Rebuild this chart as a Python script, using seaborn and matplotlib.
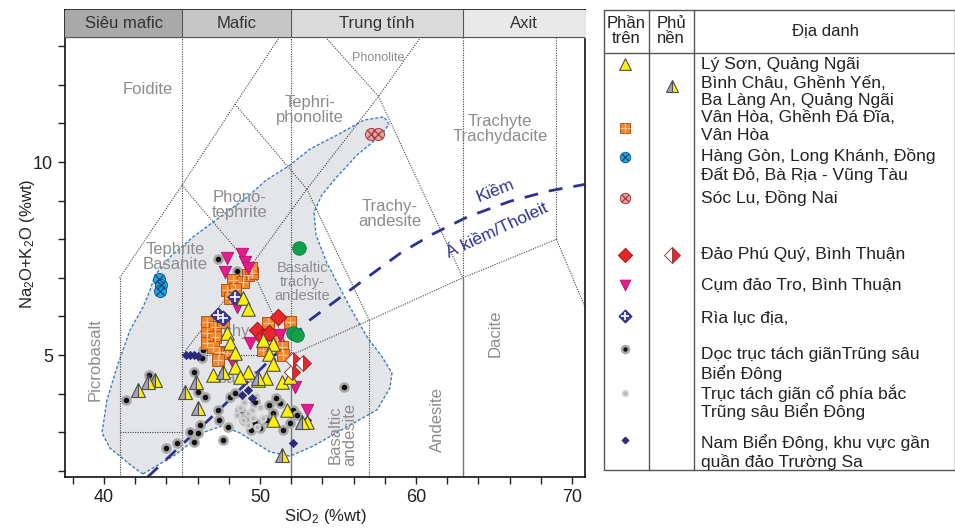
import matplotlib
matplotlib.use('Agg')
import matplotlib.pyplot as plt
import seaborn as sns
import pandas as pd

sns.set_theme(style='white')
plt.rcParams['font.family'] = ['Liberation Sans', 'DejaVu Sans']
plt.rcParams['mathtext.default'] = 'regular'

# ---- data (SiO2 %wt, Na2O+K2O %wt) ----
# Lý Sơn, Quảng Ngãi (phần trên)
lyson_x = [48.9, 49.2, 47.9, 48.1, 48.4, 50.2, 50.8, 50.6, 50.8, 48.4, 49.2, 47.0, 48.7, 49.9, 51.4,
           51.9, 51.7, 50.8, 53.0, 50.4]
lyson_y = [6.48, 6.19, 5.57, 5.31, 5.05, 5.39, 5.28, 5.03, 4.77, 4.69, 4.56, 4.48, 4.43, 4.35, 4.30,
           4.43, 3.58, 3.32, 3.26, 4.40]
# Bình Châu, Ghềnh Yến, Ba Làng An (phủ nền)
bichau_x = [42.2, 42.8, 43.3, 45.2, 45.9, 46.0, 47.6, 49.9, 52.7, 51.4]
bichau_y = [4.09, 4.30, 4.35, 4.04, 4.30, 3.63, 4.56, 4.40, 3.26, 2.41]
# Vân Hòa, Ghềnh Đá Đĩa
vanhoa_x = [48.3, 48.9, 49.2, 49.5, 47.9, 48.4, 48.1, 46.6, 47.1, 46.6, 47.1, 46.6, 47.0, 47.4, 47.9,
            47.3, 50.5, 51.9, 51.1, 50.2, 51.4, 51.5, 47.6, 49.4]
vanhoa_y = [6.94, 6.89, 7.07, 7.12, 6.68, 6.71, 6.48, 5.85, 5.73, 5.57, 5.47, 5.31, 5.21, 5.08, 5.05,
            4.87, 5.83, 5.85, 5.47, 5.13, 5.21, 5.00, 5.85, 7.25]
# Hàng Gòn, Long Khánh, Đất Đỏ
hanggon_x = [43.5, 43.65, 43.6]
hanggon_y = [6.97, 6.81, 6.66]
# Sóc Lu, Đồng Nai
soclu_x = [57.1, 57.55]
soclu_y = [10.73, 10.73]
# Đảo Phú Quý
phuquy_x = [51.15, 49.8, 50.1, 50.6]
phuquy_y = [5.98, 5.65, 5.47, 5.57]
phuquy_nen_x = [52.75, 52.05, 52.1]
phuquy_nen_y = [4.79, 4.56, 4.87]
# Cụm đảo Tro
tro_x = [47.9, 48.85, 49.05, 49.2, 47.75, 48.5, 49.35, 51.3, 52.25, 53.0, 48.3]
tro_y = [7.51, 7.62, 7.41, 7.25, 7.15, 6.24, 5.31, 5.52, 4.17, 3.58, 4.79]
# Rìa lục địa
ria_x = [48.4, 47.3, 47.65]
ria_y = [6.50, 6.04, 5.96]
# Dọc trục tách giãn Trũng sâu Biển Đông
doctruc_x = [47.3, 48.5, 42.9, 41.4, 45.8, 46.0, 46.5, 47.3, 47.4, 46.15, 46.0, 45.5, 44.7, 44.0, 47.6,
             46.35, 46.3, 47.95, 48.1, 48.4, 49.0, 49.7, 50.0, 50.45, 50.8, 51.3, 52.1, 52.4, 51.9,
             48.7, 55.4, 45.8, 50.6, 49.4, 51.5, 51.0, 49.7]
doctruc_y = [7.49, 7.18, 4.48, 3.83, 4.56, 4.04, 3.91, 3.58, 3.32, 3.19, 2.98, 3.01, 2.72, 2.59, 2.80,
             5.13, 4.92, 3.13, 3.91, 4.02, 3.32, 3.24, 3.11, 3.32, 3.50, 3.76, 3.58, 3.45, 3.24,
             3.58, 4.17, 2.75, 3.70, 3.06, 3.06, 3.89, 3.78]
# Trục tách giãn cổ phía bắc
truccu_x = [48.7, 49.2, 49.5, 49.55, 48.9, 49.2, 49.8, 50.0, 50.2, 49.0, 49.75, 48.5, 49.55]
truccu_y = [3.63, 3.50, 3.58, 3.37, 3.32, 3.19, 3.13, 3.65, 3.37, 3.78, 3.94, 3.45, 4.43]
# Nam Biển Đông, khu vực gần quần đảo Trường Sa
nambd_x = [45.25, 45.5, 45.75, 46.0, 49.25, 49.5, 48.85, 52.1, 53.0]
nambd_y = [5.0, 5.0, 5.0, 4.97, 4.09, 3.89, 3.96, 2.72, 3.32]
# green points (not in legend)
green_x = [52.5, 52.1, 52.35]
green_y = [7.77, 5.57, 5.52]

# envelope of the samples
env_x = [42.50, 44.55, 46.47, 47.56, 48.72, 50.64, 51.92, 53.40, 55.45, 57.50, 58.33, 58.46, 57.88,
         56.86, 55.77, 54.29, 53.59, 53.46, 53.97, 54.87, 56.22, 57.76, 58.27, 57.95, 56.67, 54.94,
         53.21, 51.92, 50.38, 49.17, 47.44, 45.71, 44.23, 43.27, 42.95, 42.50, 41.67, 40.83, 40.19,
         39.87, 40.38, 41.86]
env_y = [1.92, 2.41, 3.01, 3.16, 2.98, 2.49, 2.38, 2.64, 3.11, 3.58, 4.15, 4.53, 4.92,
         5.47, 6.24, 7.38, 8.11, 8.70, 9.15, 9.59, 10.18, 10.70, 10.98, 11.17, 11.09, 10.70,
         10.34, 9.92, 9.53, 9.09, 8.58, 8.06, 7.54, 7.07, 6.68, 6.24, 5.65, 4.69, 3.83,
         2.98, 2.59, 2.10]

# alkaline / subalkaline divide
alk_x = [42.8, 45.0, 47.24, 50.0, 53.2, 55.0, 57.0, 59.0, 61.0, 63.3, 66.0, 68.5, 70.8]
alk_y = [1.84, 2.68, 3.52, 4.62, 5.91, 6.45, 7.05, 7.64, 8.12, 8.58, 8.98, 9.25, 9.42]

# TAS field boundaries (Le Bas et al.)
dotted_lines = [
    ([41, 41], [0, 7]), ([41, 45], [3, 3]), ([45, 45], [0, 13.24]), ([45, 52], [5, 5]),
    ([45, 49.4, 52], [5, 7.3, 5]), ([52, 57, 63, 69], [5, 5.9, 7, 8]), ([57, 57], [0, 5.9]),
    ([49.4, 53, 57.6], [7.3, 9.3, 11.7]), ([53, 57], [9.3, 5.9]), ([57.6, 63], [11.7, 7]),
    ([41, 45, 48.4, 51.25], [7, 9.4, 11.5, 13.24]), ([45, 49.4], [9.4, 7.3]),
    ([48.4, 53], [11.5, 9.3]), ([54.19, 57.6, 60.3], [13.24, 11.7, 13.24]),
    ([52, 52], [5, 13.24]), ([63, 63], [7, 13.24]), ([69, 69], [8, 13.24]), ([69, 70.83], [8, 6.24]),
]
solid_lines = [([52, 52], [0, 5]), ([63, 63], [0, 7])]

header_edges = [37.5, 45, 52, 63, 70.83]
header_names = ['Siêu mafic', 'Mafic', 'Trung tính', 'Axit']
header_colors = ['#a9a9a9', '#c6c6c6', '#dadada', '#e9e9e9']

field_labels = [
    ('Foidite', 42.8, 11.87, 0, 12), ('Tephri-\nphonolite', 53.2, 11.35, 0, 12),
    ('Phonolite', 57.6, 12.69, 0, 9), ('Trachyte\nTrachydacite', 65.4, 10.85, 0, 12),
    ('Phono-\ntephrite', 48.7, 8.89, 0, 12), ('Trachy-\nandesite', 58.3, 8.65, 0, 12),
    ('Tephrite\nBasanite', 44.55, 7.54, 0, 12), ('Basaltic\ntrachy-\nandesite', 52.7, 6.89, 0, 10.5),
    ('Trachy-', 47.95, 5.60, 0, 12), ('basalt', 48.7, 4.40, 0, 12),
    ('Picrobasalt', 39.4, 4.87, 90, 12), ('Basaltic\nandesite', 55.3, 2.93, 90, 12),
    ('Andesite', 61.35, 3.32, 90, 12), ('Dacite', 65.06, 5.57, 90, 12),
]

legend_text = ['Lý Sơn, Quảng Ngãi', 'Bình Châu, Ghềnh Yến,', 'Ba Làng An, Quảng Ngãi',
               'Vân Hòa, Ghềnh Đá Đĩa,', 'Vân Hòa', 'Hàng Gòn, Long Khánh, Đồng',
               'Đất Đỏ, Bà Rịa - Vũng Tàu', 'Sóc Lu, Đồng Nai', 'Đảo Phú Quý, Bình Thuận',
               'Cụm đảo Tro, Bình Thuận', 'Rìa lục địa,', 'Dọc trục tách giãnTrũng sâu',
               'Biển Đông', 'Trục tách giãn cổ phía bắc', 'Trũng sâu Biển Đông',
               'Nam Biển Đông, khu vực gần', 'quần đảo Trường Sa']
legend_text_y = [65, 83, 100, 118, 135, 156, 175, 198, 255, 285, 318, 354, 374, 393, 412, 443, 462]

# ---- styles ----
styles = {
    'doctruc': dict(marker='o', s=34, color='#111111', edgecolor='#a8a8a8', linewidth=1.8),
    'truccu': dict(marker='o', s=18, color='#b3b3b3', edgecolor='#d2d2d2', linewidth=1.5),
    'nambd': dict(marker='D', s=18, color='#2c2a7c', edgecolor='#2c2a7c', linewidth=0.5),
    'vanhoa': dict(marker='s', s=70, color='#f0862a', edgecolor='#b5561a', linewidth=0.7),
    'phuquy': dict(marker='D', s=70, color='#e8262b', edgecolor='#a11515', linewidth=0.7),
    'tro': dict(marker='v', s=80, color='#e8198b', edgecolor='#b0106a', linewidth=0.6),
    'ria': dict(marker='D', s=60, color='#3b3a96', edgecolor='#2a2a70', linewidth=0.6),
    'lyson': dict(marker='^', s=95, color='#fff200', edgecolor='#4d4d4d', linewidth=0.8),
    'green': dict(marker='o', s=95, color='#10a04c', edgecolor='#0b7a38', linewidth=0.6),
    'hanggon': dict(marker='o', s=75, color='#1ea5de', edgecolor='#155e96', linewidth=0.7),
    'soclu': dict(marker='o', s=75, color='#e9a1a3', edgecolor='#a03a3f', linewidth=0.7),
}
overlays = {
    'vanhoa': dict(marker='+', s=60, color='#f7c28f', linewidth=0.9),
    'ria': dict(marker='+', s=50, color='white', linewidth=1.2),
    'hanggon': dict(marker='x', s=35, color='#14457e', linewidth=0.9),
    'soclu': dict(marker='x', s=35, color='#a03a3f', linewidth=0.9),
}
half_styles = {
    'bichau': dict(marker='^', ms=9.8, fillstyle='left', markerfacecolor='#a8a3b9',
                   markerfacecoloralt='#fff200', markeredgecolor='#4d4d4d', mew=0.8),
    'phuquy_nen': dict(marker='D', ms=8.5, fillstyle='right', markerfacecolor='#e8262b',
                       markerfacecoloralt='white', markeredgecolor='#8a4040', mew=0.7),
}

groups = [
    ('doctruc', doctruc_x, doctruc_y), ('truccu', truccu_x, truccu_y), ('nambd', nambd_x, nambd_y),
    ('vanhoa', vanhoa_x, vanhoa_y), ('phuquy', phuquy_x, phuquy_y), ('tro', tro_x, tro_y),
    ('ria', ria_x, ria_y), ('lyson', lyson_x, lyson_y), ('green', green_x, green_y),
    ('hanggon', hanggon_x, hanggon_y), ('soclu', soclu_x, soclu_y),
]

fig = plt.figure(figsize=(9.55, 5.3), dpi=100)
ax = fig.add_axes([65 / 955, 1 - 477 / 530, 520 / 955, 467 / 530])
ax.set_xlim(37.5, 70.83)
ax.set_ylim(1.84, 13.94)

# envelope
ax.fill(env_x, env_y, facecolor='#e4e5e8', edgecolor='#3f7dc4', linewidth=1.0,
        linestyle=(0, (2.2, 1.4)), zorder=0.5)

# field boundaries
for xs, ys in dotted_lines:
    ax.plot(xs, ys, color='#444444', linewidth=0.8, linestyle=(0, (1, 1.2)), zorder=1)
for xs, ys in solid_lines:
    ax.plot(xs, ys, color='#777777', linewidth=1.0, zorder=1)

# header band
for i, name in enumerate(header_names):
    ax.fill_between([header_edges[i], header_edges[i + 1]], 13.24, 13.94,
                    color=header_colors[i], zorder=4)
    ax.plot([header_edges[i + 1]] * 2, [13.24, 13.94], color='#555555', linewidth=0.8, zorder=4.1)
    ax.text((header_edges[i] + header_edges[i + 1]) / 2, 13.59, name, ha='center', va='center',
            fontsize=12, color='#333333', zorder=4.2)
ax.axhline(13.24, color='#555555', linewidth=0.8, zorder=4.1)

for txt, x, y, rot, fs in field_labels:
    ax.text(x, y, txt, ha='center', va='center', rotation=rot, fontsize=fs, color='#8c8c8c',
            linespacing=1.0, zorder=1.5)

# alkaline line
ax.plot(alk_x, alk_y, color='#2e3192', linewidth=2.0, linestyle=(0, (5, 4)), zorder=2.5)
ax.text(65.1, 9.25, 'Kiềm', rotation=21, ha='center', va='center', fontsize=12.5,
        color='#2e3192', zorder=2.6)
ax.text(65.2, 8.22, 'Á kiềm/Tholeit', rotation=25, ha='center', va='center', fontsize=12.5,
        color='#2e3192', zorder=2.6)

# samples
z = 3
for key, xs, ys in groups:
    df = pd.DataFrame({'SiO2': xs, 'alk': ys})
    sns.scatterplot(data=df, x='SiO2', y='alk', ax=ax, zorder=z, legend=False, **styles[key])
    if key in overlays:
        sns.scatterplot(data=df, x='SiO2', y='alk', ax=ax, zorder=z + 0.05, legend=False,
                        **overlays[key])
    z += 0.1
    if key == 'lyson':
        ax.plot(bichau_x, bichau_y, linestyle='none', zorder=z, **half_styles['bichau'])
        ax.plot(phuquy_nen_x, phuquy_nen_y, linestyle='none', zorder=z,
                **half_styles['phuquy_nen'])
        z += 0.1

ax.set_xticks(range(38, 71, 2))
ax.set_xticklabels([str(v) if v % 10 == 0 else '' for v in range(38, 71, 2)])
ax.set_yticks(range(2, 14))
ax.set_yticklabels([str(v) if v in (5, 10) else '' for v in range(2, 14)])
ax.tick_params(axis='both', direction='out', length=5, width=1, colors='#222222',
               labelsize=13, bottom=True, left=True)
for sp in ax.spines.values():
    sp.set_color('#111111')
    sp.set_linewidth(1.2)
ax.set_xlabel('SiO$_2$ (%wt)', fontsize=12, labelpad=1, color='#222222')
ax.set_ylabel('Na$_2$O+K$_2$O (%wt)', fontsize=12, labelpad=-3, color='#222222')

# ---- legend table ----
lax = fig.add_axes([603 / 955, 1 - 470 / 530, 352 / 955, 461 / 530])
lax.set_xlim(603, 955)
lax.set_ylim(470, 9)
lax.axis('off')
lc = '#555555'
for xs, ys in [([603.5, 954.5, 954.5, 603.5, 603.5], [9.5, 9.5, 469.5, 469.5, 9.5]),
               ([649, 649], [9.5, 469.5]), ([694, 694], [9.5, 469.5]), ([603.5, 954.5], [53, 53])]:
    lax.plot(xs, ys, color=lc, linewidth=1.0, clip_on=False)
lax.text(626, 31, 'Phần\ntrên', ha='center', va='center', fontsize=12, linespacing=0.95,
         color='#222222')
lax.text(671, 31, 'Phủ\nnền', ha='center', va='center', fontsize=12, linespacing=0.95,
         color='#222222')
lax.text(825, 31, 'Địa danh', ha='center', va='center', fontsize=12, color='#222222')
for txt, y in zip(legend_text, legend_text_y):
    lax.text(701, y, txt, ha='left', va='center', fontsize=12.5, color='#222222',
             linespacing=1.0)

legend_symbols = [('lyson', 625, 64), ('vanhoa', 625, 128), ('hanggon', 625, 157),
                  ('soclu', 625, 198), ('phuquy', 625, 255), ('tro', 625, 285),
                  ('ria', 625, 316), ('doctruc', 625, 349), ('truccu', 625, 393),
                  ('nambd', 625, 440)]
for key, x, y in legend_symbols:
    st = dict(styles[key])
    st['s'] = st['s'] * 0.75
    lax.scatter([x], [y], zorder=3, clip_on=False, **st)
    if key in overlays:
        ov = dict(overlays[key])
        ov['s'] = ov['s'] * 0.75
        lax.scatter([x], [y], zorder=3.1, **ov)
lax.plot([672], [86], linestyle='none', **dict(half_styles['bichau'], ms=8.5))
lax.plot([672], [255], linestyle='none', **half_styles['phuquy_nen'])

fig.savefig('out.png', dpi=100)
